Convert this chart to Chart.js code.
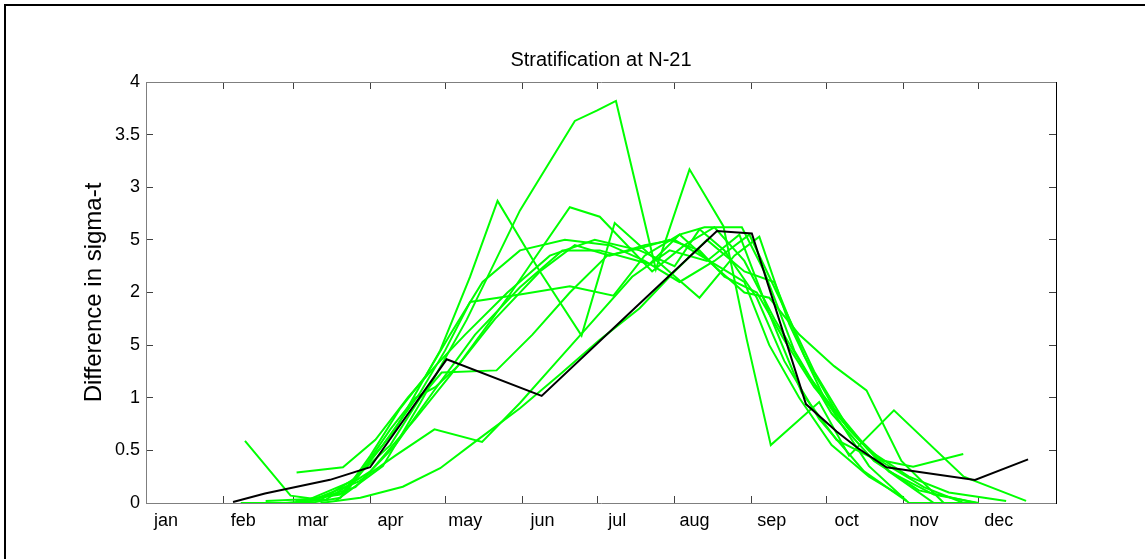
<!DOCTYPE html>
<html><head><meta charset="utf-8">
<script src="https://cdn.jsdelivr.net/npm/chart.js@4.4.1/dist/chart.umd.min.js"></script>
<style>
html,body{margin:0;padding:0;background:#fff;}
#wrap{position:relative;width:1145px;height:559px;overflow:hidden;background:#fff;}
#frame{position:absolute;left:4px;top:4px;width:1200px;height:600px;border-top:2px solid #000;border-left:2px solid #000;}
canvas{position:absolute;left:0;top:0;}
</style></head><body>
<div id="wrap"><div id="frame"></div><canvas id="c" width="1145" height="559"></canvas></div>
<script>
// ---- axis ticks ----
const monthTicks = [0,31,59,90,120,151,181,212,243,273,304,334,365];
const monthLabels = ['jan','feb','mar','apr','may','jun','jul','aug','sep','oct','nov','dec',''];
const yTicks = [0,0.5,1,1.5,2,2.5,3,3.5,4];
const yLabels = ['0','0.5','1','5','2','5','3','3.5','4'];

// ---- black series (day of year, value) ----
const blackDays = [34.9,47.7,73.8,89.9,120.6,158.7,196,229,243,264.7,277,285.6,297,332.5,353.8];
const blackVals = [0.01,0.09,0.22,0.34,1.365,1.017,1.85,2.585,2.56,0.94,0.68,0.52,0.34,0.218,0.415];

// ---- green series ----
const g1Days = [76,95,110,128.6,150,172,181,188.5,204.5,218,231.6,241,250.6,270,282,300,328,353];
const g1Vals = [0.02,0.35,0.95,1.74,2.78,3.63,3.73,3.82,2.22,3.17,2.63,1.55,0.55,0.96,0.45,0.88,0.25,0.02];
const g2Days = [62,80,100,118,130,141,158,174.7,188,205,222,236,246,258,272,290,306,334];
const g2Vals = [0.02,0.1,0.7,1.45,2.15,2.87,2.2,1.59,2.66,2.3,1.95,2.35,2.53,1.7,1.0,0.35,0.0,0.0];
const g3Days = [56,72,90,108,125,145,170,182,203,216,228,240,252,266,282,298,316,334];
const g3Vals = [0.0,0.03,0.3,0.8,1.3,1.95,2.81,2.72,2.2,2.45,2.62,2.3,1.75,1.2,0.7,0.3,0.08,0.0];
const g4Days = [66,84,100,115,132,150,167,182,202,214,224,239,248,260,275,292,310,333];
const g4Vals = [0.02,0.15,0.55,1.05,1.6,2.05,2.4,2.4,2.27,2.55,2.62,2.62,2.2,1.45,0.85,0.4,0.12,0.0];
const g5Days = [60,78,95,110,120,130,150,170,187.5,200,214,228,240,250,262,276,289,303,320];
const g5Vals = [0.02,0.08,0.55,1.05,1.45,1.91,1.98,2.06,1.97,2.35,2.55,2.25,2.0,1.95,1.6,1.3,1.07,0.4,0.0];
const g6Days = [64,82,98,110,118.6,140.6,155,170,185,198,210,222,232,245,256,268,282,296,312,328];
const g6Vals = [0.02,0.2,0.55,1.0,1.24,1.26,1.6,2.0,2.35,2.42,2.5,2.4,2.15,2.0,1.55,1.1,0.7,0.38,0.15,0.0];
const g7Days = [48,68,85,100,115.7,134.8,150,165,180,195,210,225,238,250,263,277,292,307.7,327.8];
const g7Vals = [0.02,0.04,0.2,0.45,0.70,0.58,0.95,1.35,1.75,2.15,2.4,2.3,2.55,1.8,1.05,0.6,0.42,0.345,0.465];
const g8Days = [70,86,103,118,133,150,166,182,198,212,225,240,252,264,276,290,306,322,345];
const g8Vals = [0.0,0.05,0.155,0.33,0.6,0.9,1.22,1.55,1.85,2.2,2.5,2.2,2.1,1.4,0.9,0.5,0.25,0.1,0.02];
const g9Days = [39.7,58,70,85,98,108,116,125,140,158,172,186,200,212,226,240,250,262,275,290,304];
const g9Vals = [0.59,0.07,0.03,0.25,0.7,1.0,1.1,1.3,1.75,2.2,2.45,2.35,2.45,2.5,2.3,2.1,1.5,1.0,0.55,0.25,0.05];
const g10Days = [60.4,79,92,105,116,128,145,162,180,198,212,222,232,245,256,270,288,305];
const g10Vals = [0.29,0.34,0.6,1.0,1.3,1.6,2.0,2.35,2.5,2.4,2.25,2.6,2.4,1.95,1.35,0.8,0.3,0.02];
const g11Days = [38,55,68,78,90,102,112,122,135,150,168,186,200,214,228,242,255,268,282,298,316];
const g11Vals = [0.0,0.0,0.01,0.05,0.45,0.9,1.2,1.6,2.1,2.4,2.5,2.45,2.3,2.1,2.3,2.55,1.9,1.25,0.7,0.3,0.0];

const greenSeries = [
  [g1Days,g1Vals],[g2Days,g2Vals],[g3Days,g3Vals],[g4Days,g4Vals],[g5Days,g5Vals],
  [g6Days,g6Vals],[g7Days,g7Vals],[g8Days,g8Vals],[g9Days,g9Vals],[g10Days,g10Vals],[g11Days,g11Vals]
];

const FONT = "'Liberation Sans', Arial, Helvetica, sans-serif";
const toPts = (ds, vs) => ds.map((d, i) => ({x: d, y: vs[i]}));

const datasets = [{
  data: toPts(blackDays, blackVals), borderColor: '#000000', borderWidth: 2,
  pointRadius: 0, tension: 0, fill: false, xAxisID: 'x', yAxisID: 'y'
}].concat(greenSeries.map(([d, v]) => ({
  data: toPts(d, v), borderColor: '#00ff00', borderWidth: 2,
  pointRadius: 0, tension: 0, fill: false, xAxisID: 'x', yAxisID: 'y'
})));

const setTicks = values => axis => { axis.ticks = values.map(v => ({value: v})); };
const gridOpts = {drawOnChartArea: false, drawTicks: true, tickLength: -7, color: '#404040', lineWidth: 1};
const borderGray = {display: true, color: '#7f7f7f', width: 1};

new Chart(document.getElementById('c'), {
  type: 'line',
  data: {datasets},
  options: {
    responsive: false, animation: false, devicePixelRatio: 1,
    parsing: true,
    layout: {padding: 0},
    plugins: {
      legend: {display: false}, tooltip: {enabled: false},
      title: {display: true, text: 'Stratification at N-21', fullSize: false, color: '#000',
        font: {family: FONT, size: 20, weight: 'normal', lineHeight: 1.2}, padding: {top: 48, bottom: 10}}
    },
    scales: {
      x: {type: 'linear', position: 'bottom', min: 0, max: 365,
        afterBuildTicks: setTicks(monthTicks), afterFit: s => { s.height = 56; },
        ticks: {autoSkip: false, maxRotation: 0, minRotation: 0, padding: 14, labelOffset: 20, color: '#000',
          font: {family: FONT, size: 18},
          callback: v => { const i = monthTicks.indexOf(v); return i >= 0 ? monthLabels[i] : ''; }},
        grid: gridOpts, border: borderGray},
      x2: {type: 'linear', position: 'top', min: 0, max: 365,
        afterBuildTicks: setTicks(monthTicks), afterFit: s => { s.height = 0; },
        ticks: {display: false}, grid: gridOpts, border: borderGray},
      y: {type: 'linear', position: 'left', min: 0, max: 4,
        afterBuildTicks: setTicks(yTicks), afterFit: s => { s.width = 146; },
        ticks: {padding: 13, color: '#000', font: {family: FONT, size: 18},
          callback: v => { const i = yTicks.indexOf(v); return i >= 0 ? yLabels[i] : ''; }},
        title: {display: true, text: 'Difference in sigma-t', color: '#000',
          font: {family: FONT, size: 24, lineHeight: 1.2}, padding: {top: 80, bottom: 0}},
        grid: gridOpts, border: borderGray},
      y2: {type: 'linear', position: 'right', min: 0, max: 4,
        afterBuildTicks: setTicks(yTicks), afterFit: s => { s.width = 89; },
        ticks: {display: false}, grid: gridOpts, border: {display: true, color: '#000', width: 1}}
    }
  }
});
</script>
</body></html>
